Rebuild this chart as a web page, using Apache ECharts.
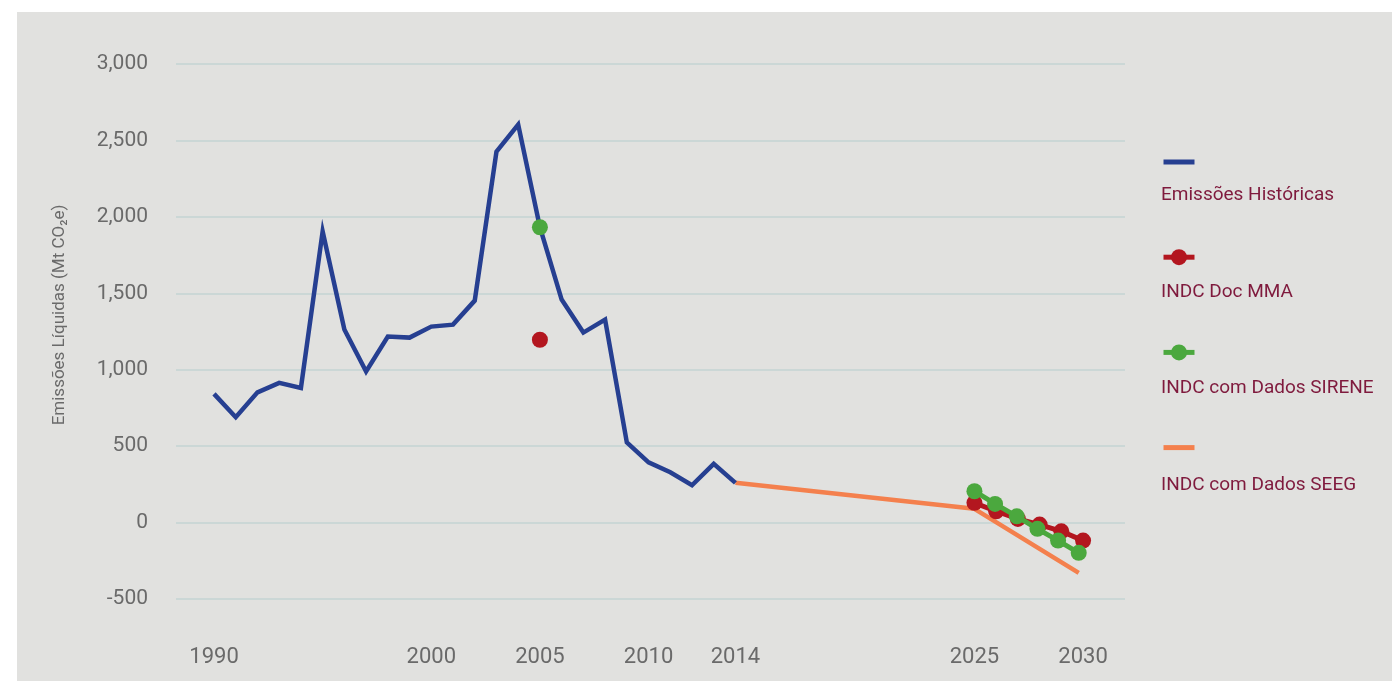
<!DOCTYPE html>
<html>
<head>
<meta charset="utf-8">
<script src="https://cdn.jsdelivr.net/npm/echarts@6/dist/echarts.min.js"></script>
<style>
  html, body { margin: 0; padding: 0; background: #fff; }
  #chart { width: 1392px; height: 681px; }
</style>
</head>
<body>
<div id="chart"></div>
<script>
  // anos e emissões históricas
  var histYears = [1990, 1991, 1992, 1993, 1994, 1995, 1996, 1997, 1998, 1999, 2000, 2001, 2002,
                   2003, 2004, 2005, 2006, 2007, 2008, 2009, 2010, 2011, 2012, 2013, 2014];
  var histValues = [842, 689, 852, 914, 881, 1904, 1263, 988, 1217, 1210, 1282, 1295, 1452,
                    2427, 2604, 1932, 1459, 1243, 1328, 525, 394, 329, 244, 384, 260];

  // INDC Doc MMA
  var mmaBaseYear = 2005, mmaBaseValue = 1196;
  var mmaYears = [2025, 2026, 2027, 2028, 2029, 2030];
  var mmaValues = [129, 74, 24, -13, -57, -118];

  // INDC com Dados SIRENE
  var sireneBaseYear = 2005, sireneBaseValue = 1932;
  var sireneYears = [2025, 2025.95, 2026.95, 2027.9, 2028.85, 2029.8];
  var sireneValues = [205, 122, 41, -41, -118, -198];

  // INDC com Dados SEEG
  var seegYears = [2014, 2025, 2029.8];
  var seegValues = [260, 90, -329];

  var tickYears = [1990, 2000, 2005, 2010, 2014, 2025, 2030];
  var names = ['Emissões Históricas', 'INDC Doc MMA', 'INDC com Dados SIRENE', 'INDC com Dados SEEG'];
  var hasMarker = [false, true, true, false];

  var colors = { hist: '#263f91', mma: '#b3161f', sirene: '#4ba83e', seeg: '#f4804d' };

  function pairs(xs, ys) {
    return xs.map(function(x, i) { return [x, ys[i]]; });
  }

  // ponto isolado de 2005 + quebra + série 2025-2030
  function withBase(bx, by, xs, ys) {
    return [[bx, by], [2015, null]].concat(pairs(xs, ys));
  }

  var chart = echarts.init(document.getElementById('chart'));

  // textos da legenda ficam abaixo dos ícones
  var legendTexts = names.map(function(n, i) {
    return {
      type: 'text',
      left: 1161,
      top: 186 + i * 96.6,
      style: {
        text: n,
        fill: '#7f1a3d',
        font: '19px Roboto, "Liberation Sans", sans-serif'
      }
    };
  });

  chart.setOption({
    backgroundColor: '#fff',
    animation: false,
    graphic: [
      {
        type: 'rect',
        z: -10,
        silent: true,
        shape: { x: 17, y: 12, width: 1375, height: 669 },
        style: { fill: '#e1e1df' }
      },
      {
        type: 'text',
        x: 60,
        y: 315,
        rotation: Math.PI / 2,
        style: {
          text: 'Emissões Líquidas (Mt CO₂e)',
          fill: '#6a6a6a',
          font: '17px Roboto, "Liberation Sans", sans-serif',
          textAlign: 'center',
          textVerticalAlign: 'middle'
        }
      }
    ].concat(legendTexts),
    grid: { left: 176, right: 267, top: 64, bottom: 82 },
    legend: {
      orient: 'vertical',
      left: 1161,
      top: 152,
      padding: 0,
      itemWidth: 31,
      itemHeight: 20,
      itemGap: 77.2,
      lineStyle: { width: 5 },
      data: names.map(function(n, i) {
        return hasMarker[i] ? { name: n } : { name: n, itemStyle: { opacity: 0 } };
      }),
      formatter: function() { return ''; },
      selectedMode: false
    },
    xAxis: {
      type: 'value',
      min: 1988.25,
      max: 2031.93,
      axisLine: { show: false },
      axisTick: { show: false },
      splitLine: { show: false },
      axisLabel: {
        customValues: tickYears,
        margin: 47,
        color: '#6a6a6a',
        fontSize: 22,
        fontFamily: 'Roboto, "Liberation Sans", sans-serif',
        formatter: function(v) { return String(Math.round(v)); }
      }
    },
    yAxis: {
      type: 'value',
      min: -500,
      max: 3000,
      interval: 500,
      axisLine: { show: false },
      axisTick: { show: false },
      splitLine: { lineStyle: { color: '#c3d3d3', width: 1.5 } },
      axisLabel: {
        margin: 28,
        color: '#6a6a6a',
        fontSize: 21,
        fontFamily: 'Roboto, "Liberation Sans", sans-serif',
        formatter: function(v) { return v.toLocaleString('en-US'); }
      }
    },
    series: [
      {
        name: names[0],
        type: 'line',
        data: pairs(histYears, histValues),
        symbol: 'none',
        lineStyle: { color: colors.hist, width: 4.5, join: 'miter' },
        itemStyle: { color: colors.hist },
        z: 3
      },
      {
        name: names[3],
        type: 'line',
        data: pairs(seegYears, seegValues),
        symbol: 'none',
        lineStyle: { color: colors.seeg, width: 4.5 },
        itemStyle: { color: colors.seeg },
        z: 2
      },
      {
        name: names[1],
        type: 'line',
        data: withBase(mmaBaseYear, mmaBaseValue, mmaYears, mmaValues),
        symbol: 'circle',
        symbolSize: 16,
        showAllSymbol: true,
        lineStyle: { color: colors.mma, width: 5 },
        itemStyle: { color: colors.mma },
        z: 4
      },
      {
        name: names[2],
        type: 'line',
        data: withBase(sireneBaseYear, sireneBaseValue, sireneYears, sireneValues),
        symbol: 'circle',
        symbolSize: 16,
        showAllSymbol: true,
        lineStyle: { color: colors.sirene, width: 5 },
        itemStyle: { color: colors.sirene },
        z: 5
      }
    ]
  });

  window.addEventListener('resize', function() { chart.resize(); });
</script>
</body>
</html>
